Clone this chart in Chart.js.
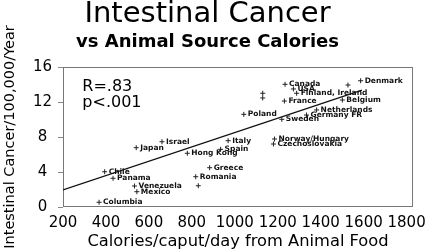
<!DOCTYPE html>
<html>
<head>
<meta charset="utf-8">
<title>Intestinal Cancer vs Animal Source Calories</title>
<script src="https://cdn.jsdelivr.net/npm/chart.js@4.4.0/dist/chart.umd.min.js"></script>
<style>
  html, body { margin: 0; padding: 0; background: #fff; }
</style>
</head>
<body>
<canvas id="cancerChart" width="433" height="250"></canvas>
<script>
// Data
const countries = [
  'Columbia', 'Chile', 'Panama', 'Venezuela', 'Mexico', 'Japan', 'Israel',
  'Hong Kong', 'Spain', 'Italy', 'Greece', 'Romania', '', 'Poland',
  'Norway/Hungary', 'Czechoslovakia', '', '', 'Sweden', 'Germany FR',
  'Netherlands', 'France', 'Canada', 'USA', 'Finland, Ireland', 'Belgium', '', 'Denmark'
];
const calories = [
  368, 394, 433, 533, 544, 541, 661,
  779, 934, 969, 883, 818, 830, 1042,
  1185, 1180, 1130, 1130, 1219, 1334,
  1381, 1231, 1234, 1273, 1288, 1501, 1527, 1586
];
const cancerRate = [
  0.54, 4.03, 3.28, 2.4, 1.75, 6.78, 7.46,
  6.14, 6.59, 7.58, 4.49, 3.46, 2.43, 10.59,
  7.77, 7.2, 13.0, 12.46, 10.02, 10.51,
  11.09, 12.11, 14.02, 13.49, 13.0, 12.23, 13.94, 14.43
];

// regression line end points
const fitCalories = [200, 1592];
const fitRate = [1.95, 13.37];

// axis ticks
const xTicks = [200, 400, 600, 800, 1000, 1200, 1400, 1600, 1800];
const yTicks = [0, 4, 8, 12, 16];

// correlation note, anchored in data units
const statLines = ['R=.83', 'p<.001'];
const statX = 290;
const statY = [13.7, 11.9];

const FONT = 'DejaVu Sans';

// Frame around the plot, country labels and the R/p note
const labelPlugin = {
  id: 'countryLabels',
  beforeDatasetsDraw(chart) {
    const { ctx, chartArea: a } = chart;
    ctx.save();
    ctx.strokeStyle = '#777';
    ctx.lineWidth = 1;
    ctx.strokeRect(a.left + 0.5, a.top + 0.5, a.width - 1, a.height - 1);
    ctx.restore();
  },
  afterDatasetsDraw(chart) {
    const { ctx } = chart;
    const { x, y } = chart.scales;
    ctx.save();
    ctx.fillStyle = '#111';
    ctx.textBaseline = 'middle';
    ctx.font = `bold 7.5px "${FONT}"`;
    chart.getDatasetMeta(0).data.forEach((pt, i) => {
      if (countries[i]) ctx.fillText(countries[i], pt.x + 4, pt.y);
    });
    ctx.font = `16px "${FONT}"`;
    ctx.fillStyle = '#000';
    statLines.forEach((t, i) => {
      ctx.fillText(t, x.getPixelForValue(statX), y.getPixelForValue(statY[i]));
    });
    ctx.restore();
  }
};

const ctx = document.getElementById('cancerChart').getContext('2d');
const cancerChart = new Chart(ctx, {
  type: 'scatter',
  data: {
    datasets: [{
      label: 'Countries',
      data: calories.map((c, i) => ({ x: c, y: cancerRate[i] })),
      pointStyle: 'cross',
      pointRadius: 2.5,
      borderWidth: 1,
      borderColor: '#222',
      backgroundColor: '#222',
    }, {
      type: 'line',
      label: 'Fit',
      data: fitCalories.map((c, i) => ({ x: c, y: fitRate[i] })),
      borderColor: '#111',
      borderWidth: 1.3,
      pointRadius: 0,
      fill: false,
    }],
  },
  options: {
    responsive: false,
    animation: false,
    layout: { padding: { left: 0, right: 18, top: 0, bottom: 0 } },
    plugins: {
      legend: { display: false },
      tooltip: { enabled: false },
      title: {
        display: true,
        text: 'Intestinal Cancer',
        color: '#000',
        font: { family: FONT, size: 29, weight: 'normal', lineHeight: 1 },
        padding: { top: 0, bottom: 2 },
      },
      subtitle: {
        display: true,
        text: 'vs Animal Source Calories',
        color: '#000',
        font: { family: FONT, size: 18, weight: 'bold', lineHeight: 1 },
        padding: { top: 2.5, bottom: 15.5 },
      },
    },
    scales: {
      x: {
        type: 'linear',
        min: 200,
        max: 1830,
        afterBuildTicks: (scale) => { scale.ticks = xTicks.map(v => ({ value: v })); },
        afterFit: (scale) => { scale.height = 43; },
        grid: { display: false, drawTicks: false },
        border: { display: false },
        ticks: {
          color: '#000',
          padding: 7,
          autoSkip: false,
          minRotation: 0,
          maxRotation: 0,
          callback: (v) => String(v),
          font: { family: FONT, size: 15 },
        },
        title: {
          display: true,
          text: 'Calories/caput/day from Animal Food',
          color: '#000',
          font: { family: FONT, size: 16.3, lineHeight: 1 },
          padding: 0,
        },
      },
      y: {
        min: 0,
        max: 16,
        afterBuildTicks: (scale) => { scale.ticks = yTicks.map(v => ({ value: v })); },
        afterFit: (scale) => { scale.width = 63; },
        grid: { drawOnChartArea: false, drawTicks: true, tickLength: 5, tickColor: '#888' },
        border: { display: false },
        ticks: {
          color: '#000',
          padding: 6,
          crossAlign: 'center',
          callback: (v) => String(v),
          font: { family: FONT, size: 15 },
        },
        title: {
          display: true,
          text: 'Intestinal Cancer/100,000/Year',
          color: '#000',
          font: { family: FONT, size: 14.5 },
          padding: { top: 2, bottom: 0 },
        },
      },
    },
  },
  plugins: [labelPlugin],
});
</script>
</body>
</html>
